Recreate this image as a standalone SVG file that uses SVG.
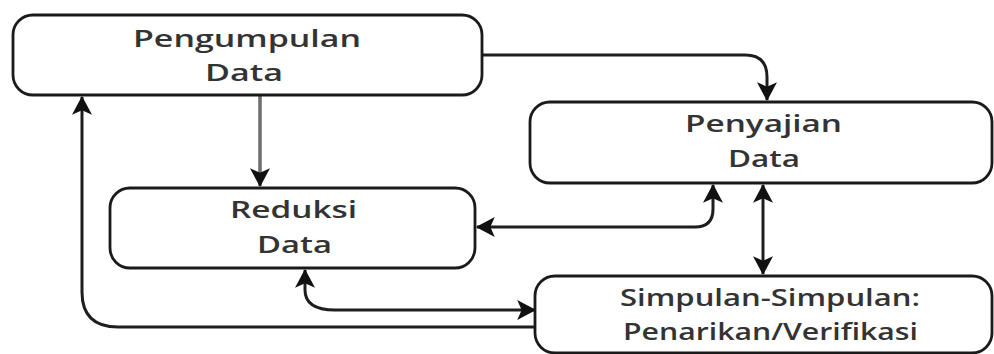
<svg xmlns="http://www.w3.org/2000/svg" width="994" height="354" viewBox="0 0 994 354">
<defs>
<style>
.box{fill:#fff;stroke:#1a1a1a;stroke-width:2.8}
.t{font-family:"Open Sans","Liberation Sans",sans-serif;font-size:24px;font-weight:600;fill:#333}
.c{fill:none;stroke:#1e1e1e;stroke-width:3}
.g{stroke:#707070;stroke-width:3.6}
</style>
<marker id="ah" markerUnits="userSpaceOnUse" markerWidth="20" markerHeight="20" refX="16" refY="9" orient="auto-start-reverse" viewBox="0 0 18 18">
<path d="M0,0 L17,9 L0,18 L4,9 z" fill="#111"/>
</marker>
</defs>
<rect width="994" height="354" fill="#fff"/>
<g id="connectors">
<path class="c" d="M482,55 H745 Q767,55 767,77 V100" marker-end="url(#ah)"/>
<path class="c g" d="M260,95 V186" marker-end="url(#ah)"/>
<path class="c" d="M535,327 H118 Q82,327 82,292 V97" marker-end="url(#ah)"/>
<path class="c" d="M535,310 H335 Q305,310 305,290 V270" marker-start="url(#ah)" marker-end="url(#ah)"/>
<path class="c" d="M477,227 H695 Q713,227 713,209 V185" marker-start="url(#ah)" marker-end="url(#ah)"/>
<path class="c" d="M763,185 V274" marker-start="url(#ah)" marker-end="url(#ah)"/>
</g>
<g id="pengumpulan">
<rect class="box" x="13" y="15" width="469" height="80" rx="20"/>
<text class="t" x="133" y="47" textLength="228" lengthAdjust="spacingAndGlyphs">Pengumpulan</text>
<text class="t" x="205" y="81" textLength="78" lengthAdjust="spacingAndGlyphs">Data</text>
</g>
<g id="penyajian">
<rect class="box" x="530" y="102" width="462" height="81" rx="20"/>
<text class="t" x="685" y="132" textLength="157" lengthAdjust="spacingAndGlyphs">Penyajian</text>
<text class="t" x="728" y="167" textLength="72" lengthAdjust="spacingAndGlyphs">Data</text>
</g>
<g id="reduksi">
<rect class="box" x="110" y="188" width="365" height="80" rx="20"/>
<text class="t" x="230" y="218" textLength="127" lengthAdjust="spacingAndGlyphs">Reduksi</text>
<text class="t" x="257" y="253" textLength="75" lengthAdjust="spacingAndGlyphs">Data</text>
</g>
<g id="simpulan">
<rect class="box" x="535" y="276" width="457" height="77" rx="20"/>
<text class="t" x="620" y="306" textLength="300" lengthAdjust="spacingAndGlyphs">Simpulan-Simpulan:</text>
<text class="t" x="623" y="340" textLength="295" lengthAdjust="spacingAndGlyphs">Penarikan/Verifikasi</text>
</g>
</svg>
